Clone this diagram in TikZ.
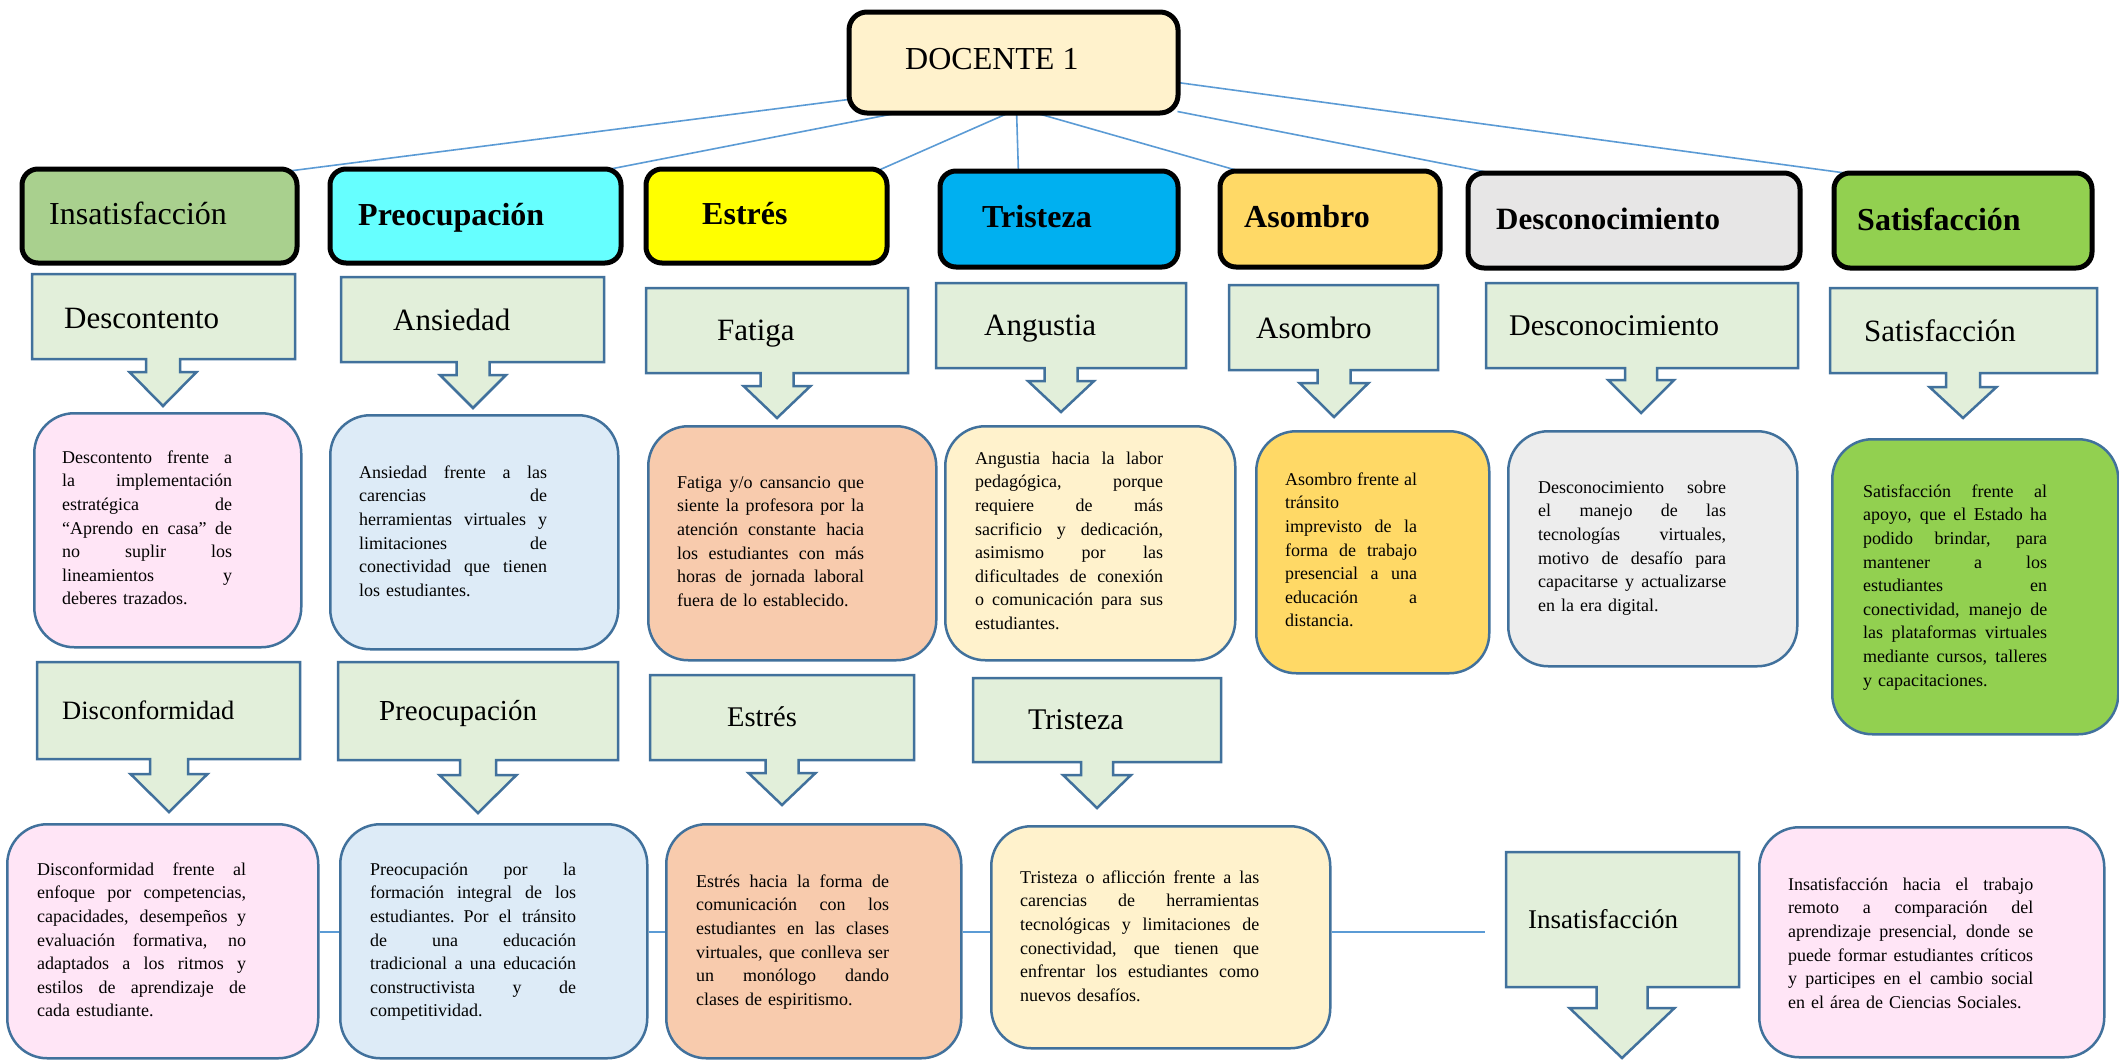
\documentclass[tikz,border=0pt]{standalone}
\usepackage{fontspec}
\setmainfont{Liberation Serif}
\usetikzlibrary{calc,backgrounds}
\setlength{\parindent}{0pt}
\definecolor{docfill}{HTML}{FFF2CC}
\definecolor{cgreen}{HTML}{A9D08E}
\definecolor{ccyan}{HTML}{66FFFF}
\definecolor{cyellow}{HTML}{FFFF00}
\definecolor{cblue}{HTML}{00B0F0}
\definecolor{cgold}{HTML}{FFD966}
\definecolor{cgray}{HTML}{E7E6E6}
\definecolor{clime}{HTML}{92D050}
\definecolor{pinkf}{HTML}{FFE5F6}
\definecolor{lblue}{HTML}{DDEBF7}
\definecolor{salmon}{HTML}{F8CBAD}
\definecolor{cream}{HTML}{FFF2CC}
\definecolor{lgray}{HTML}{EDEDED}
\definecolor{callgreen}{HTML}{E2EFDA}
\definecolor{bordblue}{HTML}{41719C}
\definecolor{lineblue}{HTML}{5B9BD5}
\newcommand{\J}[1]{\noindent\hbox to \hsize{\spaceskip=0.25em plus 3em minus 0.08em\relax #1}\\}
\newcommand{\FS}{\rule{0pt}{14pt}}
\newcommand{\arrowbox}[9]{%
  \draw[callshape] (#1,#2) -- (#3,#2) -- (#3,#4) -- ({#5+#6},#4) -- ({#5+#6},#8) -- ({#5+#7},#8) -- (#5,#9) -- ({#5-#7},#8) -- ({#5-#6},#8) -- ({#5-#6},#4) -- (#1,#4) -- cycle;}
\tikzset{
  catbox/.style={draw=black, line width=5pt, rounded corners=16pt, anchor=north west, inner sep=0pt},
  descbox/.style={draw=bordblue, line width=2.5pt, rounded corners=40pt, anchor=north west, inner sep=0pt},
  callshape/.style={draw=bordblue, fill=callgreen, line width=2.5pt, line join=miter},
  conn/.style={draw=lineblue, line width=1.6pt},
  connb/.style={draw=lineblue, line width=2.2pt},
  body/.style={anchor=north west, inner sep=0pt, align=left, font=\fontsize{18}{23.6}\selectfont},
  lab/.style={anchor=base west, inner sep=0pt, font=\fontsize{31}{36}\selectfont},
  ttl/.style={anchor=base west, inner sep=0pt, font=\fontsize{32}{38}\selectfont\bfseries},
}
\begin{document}
\begin{tikzpicture}[x=1pt,y=-1pt]
\useasboundingbox (0,0) rectangle (2119,1060);

% top node
\node[catbox, fill=docfill, minimum width=329pt, minimum height=101pt, rounded corners=18pt] (doc) at (846.5,9.5) {};
\node[anchor=base west, inner sep=0pt, font=\fontsize{32}{38}\selectfont] (doct) at (905,69) {DOCENTE 1};

% category boxes
\node[catbox, fill=cgreen, minimum width=275pt, minimum height=94pt] (c1) at (19.5,166.5) {};
\node[catbox, fill=ccyan, minimum width=291pt, minimum height=94pt] (c2) at (327.5,166.5) {};
\node[catbox, fill=cyellow, minimum width=241pt, minimum height=94pt] (c3) at (643.5,166.5) {};
\node[catbox, fill=cblue, minimum width=238pt, minimum height=96pt] (c4) at (937.5,168.5) {};
\node[catbox, fill=cgold, minimum width=220pt, minimum height=96pt] (c5) at (1217.5,168.5) {};
\node[catbox, fill=cgray, minimum width=332pt, minimum height=95pt] (c6) at (1465.5,170.5) {};
\node[catbox, fill=clime, minimum width=258pt, minimum height=95pt] (c7) at (1831.5,170.5) {};

\node[anchor=base west, inner sep=0pt, font=\fontsize{32}{38}\selectfont] (c1t) at (49,224) {Insatisfacción};
\node[ttl] (c2t) at (358,225) {Preocupación};
\node[ttl] (c3t) at (702,224) {Estrés};
\node[ttl] (c4t) at (982,227) {Tristeza};
\node[ttl] (c5t) at (1244,227) {Asombro};
\node[ttl, font=\fontsize{31}{36}\selectfont\bfseries] (c6t) at (1496,229) {Desconocimiento};
\node[ttl] (c7t) at (1857,230) {Satisfacción};

% arrow callouts, row 1
\arrowbox{32}{274}{295}{359}{163}{17}{33.5}{372}{406}
\arrowbox{341}{277}{604}{362}{473}{16.5}{33}{375}{408}
\arrowbox{646}{288}{908}{373}{777}{16.5}{33.5}{386}{418}
\arrowbox{936}{283}{1186}{368}{1061}{16.5}{33}{381}{412}
\arrowbox{1229}{285}{1438}{370}{1334}{16.5}{34.5}{383}{417}
\arrowbox{1486}{283}{1798}{368}{1641}{16}{33}{380}{413}
\arrowbox{1830}{288}{2097}{373}{1963}{17}{33.5}{387}{418}

\node[lab] (a1) at (64,328) {Descontento};
\node[lab] (a2) at (393,330) {Ansiedad};
\node[lab] (a3) at (717,340) {Fatiga};
\node[lab] (a4) at (984,335) {Angustia};
\node[lab] (a5) at (1256,338) {Asombro};
\node[lab, font=\fontsize{30}{36}\selectfont] (a6) at (1509,335) {Desconocimiento};
\node[lab] (a7) at (1864,341) {Satisfacción};

% description boxes, row 1
\node[descbox, fill=pinkf, minimum width=267pt, minimum height=234pt] (d1) at (33,412) {};
\node[descbox, fill=lblue, minimum width=288pt, minimum height=234pt] (d2) at (329,414) {};
\node[descbox, fill=salmon, minimum width=288pt, minimum height=234pt] (d3) at (647,425) {};
\node[descbox, fill=cream, minimum width=290pt, minimum height=234pt] (d4) at (944,425) {};
\node[descbox, fill=cgold, minimum width=233pt, minimum height=242pt] (d5) at (1255,430) {};
\node[descbox, fill=lgray, minimum width=289pt, minimum height=235pt] (d6) at (1507,430) {};
\node[descbox, fill=clime, minimum width=286pt, minimum height=295pt] (d7) at (1831,438) {};

\node[body, text width=170pt] (d1t) at (62,449) {\noindent\FS\J{Descontento frente a}\J{la implementación}\J{estratégica de}\J{“Aprendo en casa” de}\J{no suplir los}\J{lineamientos y}\noindent deberes trazados.};
\node[body, text width=188pt] (d2t) at (359,464) {\noindent\FS\J{Ansiedad frente a las}\J{carencias de}\J{herramientas virtuales y}\J{limitaciones de}\J{conectividad que tienen}\noindent los estudiantes.};
\node[body, text width=187pt] (d3t) at (677,474) {\noindent\FS\J{Fatiga y/o cansancio que}\J{siente la profesora por la}\J{atención constante hacia}\J{los estudiantes con más}\J{horas de jornada laboral}\noindent fuera de lo establecido.};
\node[body, text width=188pt] (d4t) at (975,450) {\noindent\FS\J{Angustia hacia la labor}\J{pedagógica, porque}\J{requiere de más}\J{sacrificio y dedicación,}\J{asimismo por las}\J{dificultades de conexión}\J{o comunicación para sus}\noindent estudiantes.};
\node[body, text width=132pt] (d5t) at (1285,471) {\noindent\FS\J{Asombro frente al}\noindent tránsito\\\J{imprevisto de la}\J{forma de trabajo}\J{presencial a una}\J{educación a}\noindent distancia.};
\node[body, text width=188pt] (d6t) at (1538,479) {\noindent\FS\J{Desconocimiento sobre}\J{el manejo de las}\J{tecnologías virtuales,}\J{motivo de desafío para}\J{capacitarse y actualizarse}\noindent en la era digital.};
\node[body, text width=184pt] (d7t) at (1863,483) {\noindent\FS\J{Satisfacción frente al}\J{apoyo, que el Estado ha}\J{podido brindar, para}\J{mantener a los}\J{estudiantes en}\J{conectividad, manejo de}\J{las plataformas virtuales}\J{mediante cursos, talleres}\noindent y capacitaciones.};

% arrow callouts, row 2
\arrowbox{37}{662}{300}{759}{169}{19}{38.5}{774}{812}
\arrowbox{338}{662}{618}{760}{478}{18}{38.5}{775}{813}
\arrowbox{650}{675}{914}{760}{782}{16.5}{33.5}{773}{805}
\arrowbox{973}{678}{1221}{762}{1097}{16}{34}{775}{808}
\arrowbox{1506}{852}{1739}{987}{1622}{25.5}{52.5}{1008}{1058}

\node[lab, font=\fontsize{26.5}{32}\selectfont] (b1) at (62,719) {Disconformidad};
\node[lab, font=\fontsize{29}{34}\selectfont] (b2) at (379,720) {Preocupación};
\node[lab, font=\fontsize{28.5}{34}\selectfont] (b3) at (727,726) {Estrés};
\node[lab, font=\fontsize{30}{36}\selectfont] (b4) at (1028,729) {Tristeza};
\node[lab, font=\fontsize{27}{32}\selectfont] (b5) at (1528,928) {Insatisfacción};

% description boxes, row 2
\node[descbox, fill=pinkf, minimum width=311pt, minimum height=234pt] (d8) at (6,823) {};
\node[descbox, fill=lblue, minimum width=307pt, minimum height=234pt] (d9) at (339,823) {};
\node[descbox, fill=salmon, minimum width=295pt, minimum height=234pt] (d10) at (665,823) {};
\node[descbox, fill=cream, minimum width=339pt, minimum height=222pt] (d11) at (990,825) {};
\node[descbox, fill=pinkf, minimum width=345pt, minimum height=230pt] (d12) at (1758,826) {};

\node[body, text width=209pt] (d8t) at (37,861) {\noindent\FS\J{Disconformidad frente al}\J{enfoque por competencias,}\J{capacidades, desempeños y}\J{evaluación formativa, no}\J{adaptados a los ritmos y}\J{estilos de aprendizaje de}\noindent cada estudiante.};
\node[body, text width=206pt] (d9t) at (370,861) {\noindent\FS\J{Preocupación por la}\J{formación integral de los}\J{estudiantes. Por el tránsito}\J{de una educación}\J{tradicional a una educación}\J{constructivista y de}\noindent competitividad.};
\node[body, text width=193pt] (d10t) at (696,873) {\noindent\FS\J{Estrés hacia la forma de}\J{comunicación con los}\J{estudiantes en las clases}\J{virtuales, que conlleva ser}\J{un monólogo dando}\noindent clases de espiritismo.};
\node[body, text width=239pt] (d11t) at (1020,869) {\noindent\FS\J{Tristeza o aflicción frente a las}\J{carencias de herramientas}\J{tecnológicas y limitaciones de}\J{conectividad, que tienen que}\J{enfrentar los estudiantes como}\noindent nuevos desafíos.};
\node[body, text width=245pt] (d12t) at (1788,876) {\noindent\FS\J{Insatisfacción hacia el trabajo}\J{remoto a comparación del}\J{aprendizaje presencial, donde se}\J{puede formar estudiantes críticos}\J{y participes en el cambio social}\noindent en el área de Ciencias Sociales.};

% connectors
\coordinate (ly) at (0,932);
\coordinate (lend) at (1485,932);
\begin{pgfonlayer}{background}
\fill[white] (0,0) rectangle (2119,1060);
\draw[conn] ($(doc.south west)+(2,-16)$) -- ($(c1.north east)+(-22,6)$);
\draw[conn] ($(doc.south west)+(69,-6)$) -- ($(c2.north east)+(-31,6)$);
\draw[conn] ($(doc.south west)+(170,-6)$) -- ($(c3.north east)+(-16,6)$);
\draw[conn] ($(doc.south west)+(170,-6)$) -- ($(c4.north west)+(81,6)$);
\draw[conn] ($(doc.south west)+(184,-4)$) -- ($(c5.north west)+(34,6)$);
\draw[conn] ($(doc.south east)+(-3,-4)$) -- ($(c6.north west)+(23,2)$);
\draw[conn] ($(doc.south east)+(-3,-33)$) -- ($(c7.north west)+(32,5)$);
\draw[connb] (d8.east |- ly) -- (d9.west |- ly);
\draw[connb] (d9.east |- ly) -- (d10.west |- ly);
\draw[connb] (d10.east |- ly) -- (d11.west |- ly);
\draw[connb] (d11.east |- ly) -- (lend);
\end{pgfonlayer}
\end{tikzpicture}
\end{document}
